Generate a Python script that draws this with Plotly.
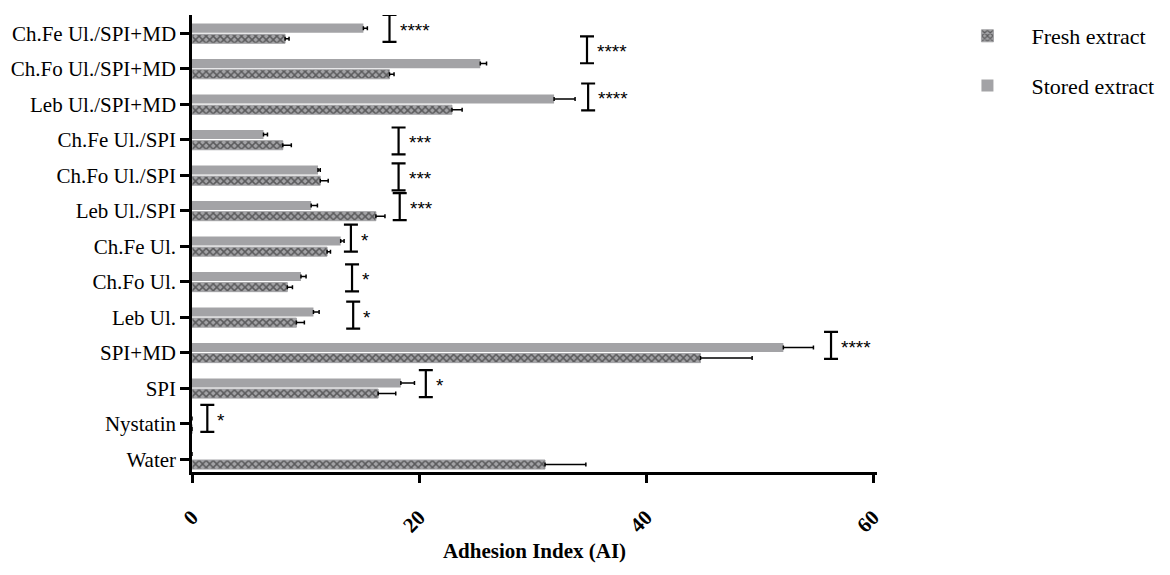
import plotly.graph_objects as go

# categories bottom -> top on the y axis
categories = ["Water", "Nystatin", "SPI", "SPI+MD", "Leb Ul.", "Ch.Fo Ul.", "Ch.Fe Ul.",
              "Leb Ul./SPI", "Ch.Fo Ul./SPI", "Ch.Fe Ul./SPI",
              "Leb Ul./SPI+MD", "Ch.Fo Ul./SPI+MD", "Ch.Fe Ul./SPI+MD"]

fresh = [31.1, 0, 16.4, 44.8, 9.2, 8.4, 11.9, 16.2, 11.3, 8.0, 22.9, 17.4, 8.2]
fresh_err = [3.6, 0, 1.55, 4.55, 0.7, 0.45, 0.3, 0.8, 0.7, 0.75, 0.9, 0.4, 0.35]

stored = [0, 0, 18.4, 52.1, 10.7, 9.6, 13.1, 10.5, 11.1, 6.3, 31.9, 25.4, 15.1]
stored_err = [0, 0, 1.2, 2.65, 0.5, 0.45, 0.3, 0.55, 0.2, 0.35, 1.85, 0.55, 0.35]

# significance brackets: x position, centre (category units), stars
sig_x = [1.35, 20.6, 56.3, 14.2, 14.1, 14.0, 18.3, 18.2, 18.2, 34.9, 34.8, 17.4]
sig_y = [1.15, 2.13, 3.21, 4.06, 5.11, 6.23, 7.12, 7.96, 8.97, 10.21, 11.54, 12.14]
sig_txt = ["*", "*", "****", "*", "*", "*", "***", "***", "***", "****", "****", "****"]
sig_half = 0.38

x_ticks = [0, 20, 40, 60]

SERIF = "Liberation Serif"
pos = list(range(len(categories)))

fig = go.Figure()

fig.add_trace(go.Bar(
    y=pos, x=fresh, orientation="h", name="Fresh extract",
    legendgroup="fresh",
    marker=dict(color="#a3a3a6", line=dict(color="#a3a3a6", width=1),
                pattern=dict(shape="x", fgcolor="#111111", bgcolor="#a3a3a6",
                             size=5, solidity=0.5, fillmode="overlay")),
    error_x=dict(type="data", array=fresh_err, arrayminus=[0] * len(fresh),
                 symmetric=False, color="black", thickness=1.5, width=2),
))

fig.add_trace(go.Bar(
    y=pos, x=stored, orientation="h", name="Stored extract",
    legendgroup="stored",
    marker=dict(color="#a3a3a6", line=dict(width=0)),
    error_x=dict(type="data", array=stored_err, arrayminus=[0] * len(stored),
                 symmetric=False, color="black", thickness=1.5, width=2),
))

# I-shaped significance brackets
fig.add_trace(go.Scatter(
    x=sig_x, y=sig_y, mode="markers", showlegend=False, hoverinfo="skip",
    marker=dict(size=1, color="rgba(0,0,0,0)"),
    error_y=dict(type="data", array=[sig_half] * len(sig_x), color="black",
                 thickness=2.2, width=7),
))

for xv, yv, t in zip(sig_x, sig_y, sig_txt):
    fig.add_annotation(x=xv, y=yv, text=t, showarrow=False, xanchor="left",
                       yanchor="middle", xshift=8, yshift=-2,
                       font=dict(family="Liberation Sans", size=19, color="black"))

fig.update_layout(
    width=1162, height=567,
    margin=dict(l=184, r=293, t=7, b=103, autoexpand=False),
    plot_bgcolor="white", paper_bgcolor="white",
    barmode="group", bargap=0.4, bargroupgap=0.15,
    font=dict(family=SERIF, color="black"),
    legend=dict(x=1.097, y=1.0, xanchor="left", yanchor="top",
                traceorder="grouped", tracegroupgap=18, itemwidth=78,
                font=dict(family=SERIF, size=22, color="black"),
                bgcolor="rgba(0,0,0,0)"),
)

fig.update_xaxes(
    range=[0, 60.35], tickvals=x_ticks, ticktext=[f"<b>{v}</b>" for v in x_ticks],
    tickangle=-45, tickfont=dict(family=SERIF, size=21),
    ticks="outside", ticklen=8, tickwidth=2.5, tickcolor="black",
    showline=True, linewidth=2.5, linecolor="black", automargin=False,
    showgrid=False, zeroline=False, ticklabelstandoff=14,
    title=dict(text="<b>Adhesion Index (AI)</b>", font=dict(family=SERIF, size=21),
               standoff=8),
)

fig.update_yaxes(
    range=[-0.36, 12.52], tickvals=pos, ticktext=categories,
    tickfont=dict(family=SERIF, size=21), automargin=False,
    ticks="outside", ticklen=9, tickwidth=3, tickcolor="black",
    showline=True, linewidth=2.5, linecolor="black",
    showgrid=False, zeroline=False,
)

fig.write_html("out.html")
